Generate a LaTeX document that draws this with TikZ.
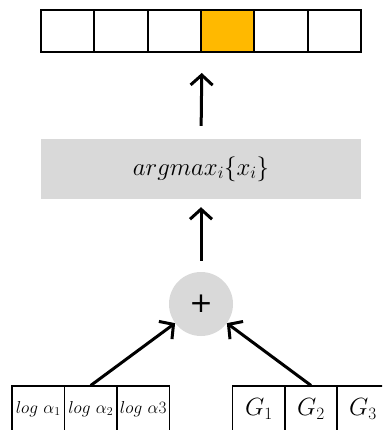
\documentclass[tikz,border=0pt]{standalone}
\usepackage{fontspec}
\usepackage{tikz}
\usetikzlibrary{arrows.meta,positioning,calc}
\newfontfamily\plusfont{DejaVu Sans}
\definecolor{GSPick}{HTML}{FFB900}
\definecolor{GSGray}{HTML}{D9D9D9}
\definecolor{GSInk}{HTML}{000000}
\tikzset{
  flow/.style={-{Straight Barb[length=10pt,width=22pt]},GSInk,line width=3pt},
  cell/.style={draw=GSInk,line width=2pt,fill=white,minimum width=53.33pt,
               minimum height=42pt,inner sep=0pt},
  cellpick/.style={cell,fill=GSPick},
  incell/.style={draw=GSInk,line width=1.1pt,minimum width=52.5pt,
                 minimum height=46pt,inner sep=0pt},
  opbox/.style={fill=GSGray,minimum width=320pt,minimum height=60pt,inner sep=0pt,
                font=\fontsize{25}{30}\selectfont},
  opcirc/.style={circle,fill=GSGray,minimum size=64pt,inner sep=0pt,
                 font=\plusfont\fontsize{28}{30}\selectfont},
  smalltxt/.style={font=\fontsize{18}{20}\selectfont},
  bigtxt/.style={font=\fontsize{25}{30}\selectfont},
}
\begin{document}
\begin{tikzpicture}[x=1pt,y=-1pt]
    \clip (0,0) rectangle (382,430);
    \fill[white] (0,0) rectangle (382,430);
    \foreach \i in {1,2,3,5,6}
      \node[cell] (cell\i) at ({41+53.33*(\i-0.5)},31) {};
    \node[cellpick] (cell4) at ({41+53.33*3.5},31) {};
    \node[opbox] (argmax) at (201,169) {$argmax_i\{x_i\}$};
    \node[opcirc] (plus) at (201,304) {+};
    \node[incell,smalltxt] (la1) at (38.25,409) {$log\ \alpha_1$};
    \node[incell,smalltxt] (la2) at (90.75,409) {$log\ \alpha_2$};
    \node[incell,smalltxt] (la3) at (143.25,409) {$log\ \alpha 3$};
    \node[incell,bigtxt] (g1) at (259,409) {$G_1$};
    \node[incell,bigtxt] (g2) at (311,409) {$G_2$};
    \node[incell,bigtxt] (g3) at (363,409) {$G_3$};
    \draw[flow,shorten <=13pt,shorten >=20pt] (argmax.north) -- (cell3.south east);
    \draw[flow,shorten <=11pt,shorten >=8pt] (plus.north) -- (argmax.south);
    \draw[flow] (la2.north) -- (plus);
    \draw[flow] (g2.north) -- (plus);
\end{tikzpicture}
\end{document}
